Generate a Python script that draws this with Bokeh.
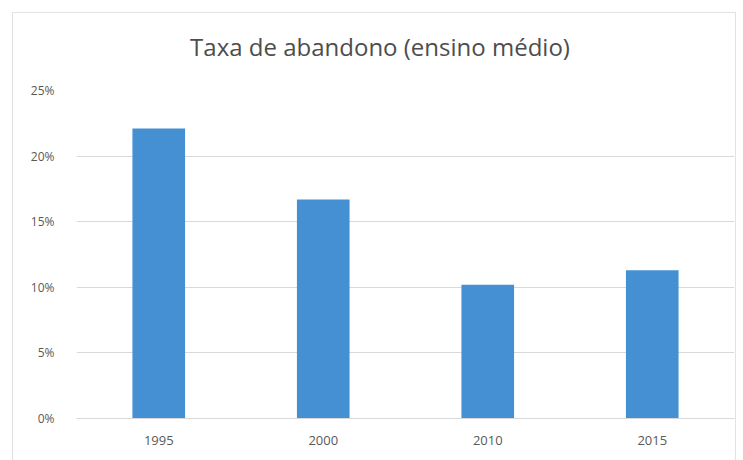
from bokeh.plotting import figure
from bokeh.models import FixedTicker, PrintfTickFormatter, Range1d, Div
from bokeh.layouts import column
from bokeh.embed import file_html
from bokeh.resources import INLINE

years = ["1995", "2000", "2010", "2015"]
rates = [22.1, 16.7, 10.2, 11.3]
y_ticks = [0, 5, 10, 15, 20, 25]
title_text = "Taxa de abandono (ensino médio)"

FONT = "Open Sans"
TXT = "#595959"
GRID = "#d9d9d9"

title_div = Div(
    text=('<div style="width:722px;height:68px;line-height:68px;text-align:center;'
          'font-family:\'Open Sans\';font-size:24px;color:#4d4d4d;'
          'padding-left:12px;box-sizing:border-box;white-space:nowrap;">'
          + title_text + '</div>'),
    width=722, height=68, margin=0,
)

p = figure(
    x_range=years,
    y_range=Range1d(0, 25),
    width=722, height=380,
    output_backend="svg", toolbar_location=None,
    min_border_left=63, min_border_right=1,
    min_border_top=9, min_border_bottom=43,
    margin=0,
)

p.vbar(x=years, top=rates, width=0.32, fill_color="#4590d3", line_color=None)

p.outline_line_color = None
p.background_fill_color = "white"
p.border_fill_color = "white"

p.xgrid.grid_line_color = None
p.ygrid.grid_line_color = GRID
p.ygrid.grid_line_width = 1
p.yaxis.ticker = FixedTicker(ticks=y_ticks)
p.yaxis.formatter = PrintfTickFormatter(format="%d%%")
p.yaxis.axis_line_color = None
p.yaxis.major_tick_line_color = None
p.yaxis.minor_tick_line_color = None
p.yaxis.major_label_standoff = 16
p.yaxis.major_label_text_font = FONT
p.yaxis.major_label_text_font_size = "12px"
p.yaxis.major_label_text_color = TXT

p.xaxis.axis_line_color = GRID
p.xaxis.major_tick_line_color = None
p.xaxis.minor_tick_line_color = None
p.xaxis.major_label_standoff = 11
p.xaxis.major_label_text_font = FONT
p.xaxis.major_label_text_font_size = "13px"
p.xaxis.major_label_text_color = TXT
p.x_range.range_padding = 0.0

layout = column(title_div, p, spacing=0,
                styles={"border-top": "1px solid #e2e2e2", "border-left": "1px solid #e2e2e2",
                        "border-right": "1px solid #e2e2e2", "margin-left": "12px",
                        "margin-top": "12px", "background-color": "white"})

open("out.html", "w").write(file_html(layout, INLINE))
